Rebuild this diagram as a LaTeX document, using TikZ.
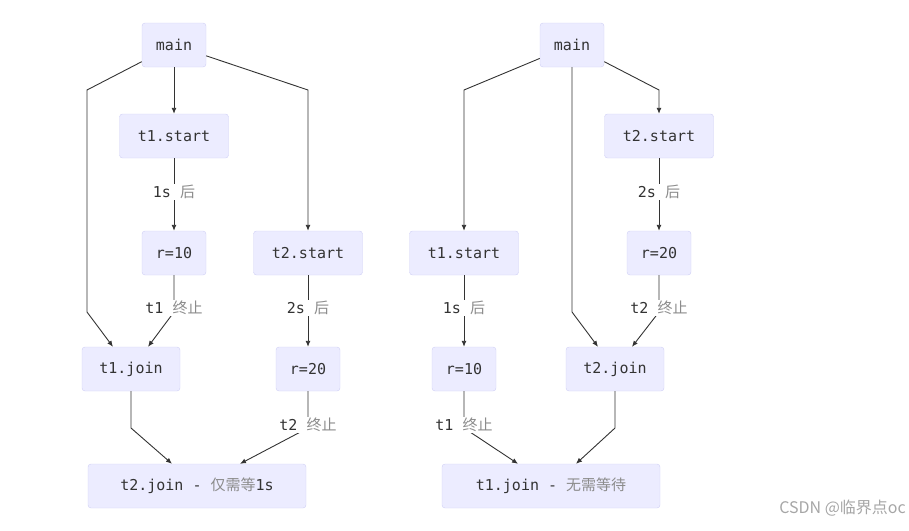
\documentclass[tikz,border=0pt]{standalone}
\usepackage{fontspec}
\setmonofont{DejaVu Sans Mono}
\newfontfamily\cjk{Noto Sans CJK SC}
\usetikzlibrary{arrows.meta}
\definecolor{boxfill}{HTML}{ECECFF}
\definecolor{boxline}{HTML}{CFCFF5}
\definecolor{linkc}{HTML}{333333}
\definecolor{cjkgray}{HTML}{8C8C8C}
\newcommand{\zh}[1]{{\cjk\color{cjkgray}#1}}

\begin{document}
\begin{tikzpicture}[x=1pt,y=-1pt,
    box/.style={draw=boxline, fill=boxfill, rounded corners=3pt, minimum height=44pt, inner sep=0pt,
        font=\ttfamily\fontsize{15}{18}\selectfont, text=linkc},
    lbl/.style={fill=white, inner sep=1.5pt, font=\ttfamily\fontsize{15}{18}\selectfont, text=linkc},
    arr/.style={-{Latex[length=6pt,width=5pt]}, draw=linkc, line width=0.9pt}]
    \useasboundingbox (0,0) rectangle (909,530);

    % left: t2.join only waits 1s
    \node[box, minimum width=64pt] (mainL) at (174,45) {main};
    \node[box, minimum width=109pt] (t1sL) at (174,136) {t1.start};
    \node[box, minimum width=64pt] (r10L) at (174,253) {r=10};
    \node[box, minimum width=109pt] (t2sL) at (308,253) {t2.start};
    \node[box, minimum width=98pt] (t1jL) at (131,369) {t1.join};
    \node[box, minimum width=64pt] (r20L) at (308,369) {r=20};
    \node[box, minimum width=218pt] (endL) at (197,486) {t2.join - \zh{仅需等}1s};
    \coordinate (pL1) at (87,90);
    \coordinate (pL2) at (87,312);
    \coordinate (pL3) at (308,90);
    \coordinate (pL4) at (174,312);
    \coordinate (pL5) at (131,428);
    \coordinate (pL6) at (308,428);
    \draw[arr] (mainL) -- (t1sL);
    \draw[arr] (mainL) -- (pL1) -- (pL2) -- ([xshift=-18pt]t1jL.north);
    \draw[arr] (mainL) -- (pL3) -- (t2sL);
    \draw[arr] (t1sL) -- (r10L);
    \draw[arr] (r10L) -- (pL4) -- ([xshift=17pt]t1jL.north);
    \draw[arr] (t2sL) -- (r20L);
    \draw[arr] (t1jL) -- (pL5) -- ([xshift=-25pt]endL.north);
    \draw[arr] (r20L) -- (pL6) -- ([xshift=43pt]endL.north);
    \node[lbl] (dL1) at (174,192) {1s \zh{后}};
    \node[lbl] (dL2) at (174,308) {t1 \zh{终止}};
    \node[lbl] (dL3) at (308,308) {2s \zh{后}};
    \node[lbl] (dL4) at (308,425) {t2 \zh{终止}};

    % right: t1.join needs no wait
    \node[box, minimum width=64pt] (mainR) at (572,45) {main};
    \node[box, minimum width=109pt] (t2sR) at (659,136) {t2.start};
    \node[box, minimum width=109pt] (t1sR) at (464,253) {t1.start};
    \node[box, minimum width=64pt] (r20R) at (659,253) {r=20};
    \node[box, minimum width=64pt] (r10R) at (464,369) {r=10};
    \node[box, minimum width=98pt] (t2jR) at (615,369) {t2.join};
    \node[box, minimum width=218pt] (endR) at (551,486) {t1.join - \zh{无需等待}};
    \coordinate (pR1) at (464,90);
    \coordinate (pR2) at (659,90);
    \coordinate (pR3) at (572,312);
    \coordinate (pR4) at (659,312);
    \coordinate (pR5) at (464,428);
    \coordinate (pR6) at (615,428);
    \draw[arr] (mainR) -- (pR1) -- (t1sR);
    \draw[arr] (mainR) -- (pR2) -- (t2sR);
    \draw[arr] (mainR) -- (pR3) -- ([xshift=-17pt]t2jR.north);
    \draw[arr] (t2sR) -- (r20R);
    \draw[arr] (t1sR) -- (r10R);
    \draw[arr] (r20R) -- (pR4) -- ([xshift=17pt]t2jR.north);
    \draw[arr] (r10R) -- (pR5) -- ([xshift=-33pt]endR.north);
    \draw[arr] (t2jR) -- (pR6) -- ([xshift=25pt]endR.north);
    \node[lbl] (dR1) at (659,192) {2s \zh{后}};
    \node[lbl] (dR2) at (464,308) {1s \zh{后}};
    \node[lbl] (dR3) at (659,308) {t2 \zh{终止}};
    \node[lbl] (dR4) at (464,425) {t1 \zh{终止}};

    \node[anchor=east, inner sep=0pt, font=\cjk\fontsize{16}{18}\selectfont, text=black!35] (mark) at (906,508) {CSDN @临界点oc};
\end{tikzpicture}
\end{document}
